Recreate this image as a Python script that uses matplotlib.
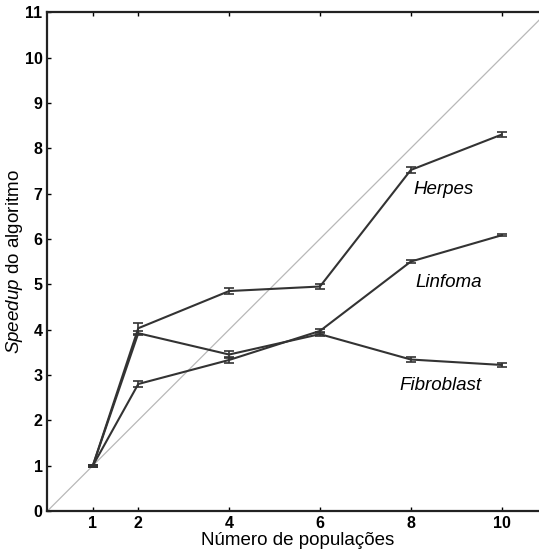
import numpy as np
import matplotlib.pyplot as plt

plt.rcParams['font.family'] = ['Liberation Sans', 'DejaVu Sans']
plt.rcParams['mathtext.fontset'] = 'custom'
plt.rcParams['mathtext.it'] = 'Liberation Sans:italic'
plt.rcParams['mathtext.rm'] = 'Liberation Sans'

# number of populations
pops = [1, 2, 4, 6, 8, 10]

# speedup per dataset, with error bars
herpes = [1.0, 4.03, 4.85, 4.95, 7.52, 8.30]
herpes_err = [0.02, 0.12, 0.07, 0.06, 0.06, 0.05]
linfoma = [1.0, 2.80, 3.33, 3.97, 5.50, 6.08]
linfoma_err = [0.02, 0.07, 0.06, 0.05, 0.04, 0.02]
fibroblast = [1.0, 3.92, 3.45, 3.90, 3.34, 3.22]
fibroblast_err = [0.02, 0.05, 0.07, 0.05, 0.06, 0.04]

labels = ['Herpes', 'Linfoma', 'Fibroblast']
label_pos = [(8.05, 7.08), (8.1, 5.03), (7.76, 2.76)]

fig = plt.figure(figsize=(5.39, 5.53), dpi=100)
ax = fig.add_axes([0.088, 0.076, 0.927, 0.902])

# ideal linear speedup
ax.plot([0, 11], [0, 11], color='#b8b8b8', lw=0.9, zorder=1)

for y, e in [(herpes, herpes_err), (linfoma, linfoma_err), (fibroblast, fibroblast_err)]:
    ax.errorbar(pops, y, yerr=e, color='#333333', lw=1.5, capsize=3.5,
                elinewidth=1.2, capthick=1.2, zorder=2)

for name, (tx, ty) in zip(labels, label_pos):
    ax.text(tx, ty, name, style='italic', fontsize=13.5, va='center', ha='left')

ax.set_xlim(0, 11)
ax.set_ylim(0, 11)
ax.set_xticks(pops)
ax.set_yticks(range(0, 12))
ax.tick_params(direction='in', top=True, right=True, length=3, width=1,
               labelsize=11.5)
for lab in ax.get_xticklabels() + ax.get_yticklabels():
    lab.set_fontweight('bold')
for s in ax.spines.values():
    s.set_linewidth(1.6)
    s.set_color('#222222')

ax.set_xlabel('Número de populações', fontsize=13.5, labelpad=0.5)
ax.set_ylabel(r'$\mathit{Speedup}$ do algoritmo', fontsize=13.5, labelpad=0)

plt.savefig('out.png', dpi=100)
